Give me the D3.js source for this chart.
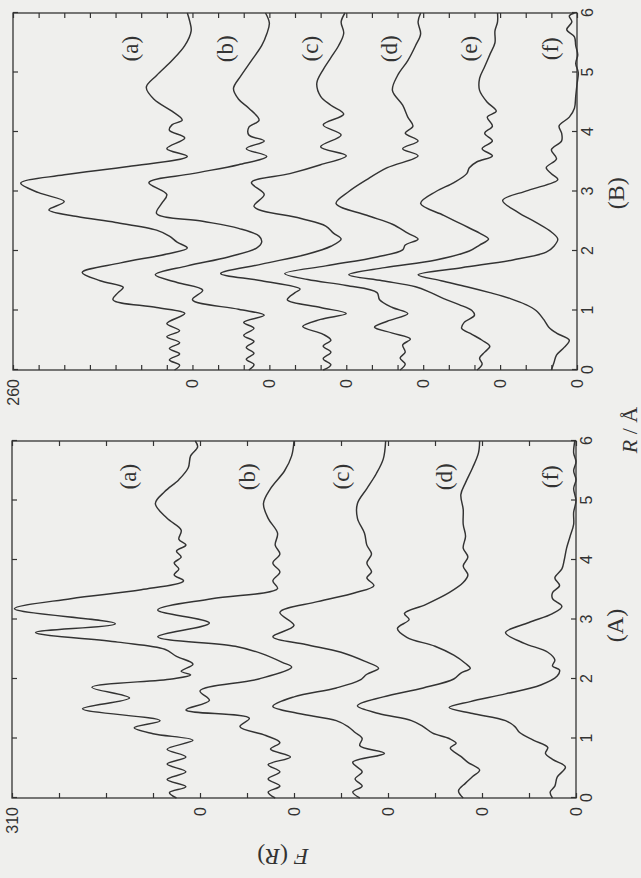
<!DOCTYPE html>
<html>
<head>
<meta charset="utf-8">
<script src="https://cdn.jsdelivr.net/npm/d3@7"></script>
<style>
  html, body { margin: 0; padding: 0; background: #efefed; }
  svg { display: block; }
</style>
</head>
<body>
<svg id="fig" width="641" height="878"></svg>
<script>
// ---------- data ----------
// Distance axis (Å), shared by both panels
const rTicks = [0, 1, 2, 3, 4, 5, 6];

// Panel (B): six transforms stacked on their own zero lines
const panelB_top = 260;
const panelB_bottom = 40;
const panelB_step = 10;
const panelB_zeros = [190, 160, 130, 100, 70, 40];
const panelB_names = ["(a)", "(b)", "(c)", "(d)", "(e)", "(f)"];

// [R, F(R) above the curve's own zero]
const curveB_a = [[0,7],[0.08,5],[0.17,9],[0.27,5],[0.36,9],[0.46,5],[0.56,10],[0.66,5],[0.78,10],[0.95,3],
  [1.05,14],[1.18,31],[1.3,29],[1.39,27],[1.5,36],[1.64,43],[1.8,28],[1.95,10],[2.05,2],[2.15,6],[2.25,9],
  [2.35,14],[2.48,30],[2.58,45],[2.69,56],[2.83,50],[2.98,60],[3.14,67],[3.28,50],[3.42,25],[3.59,2],
  [3.72,10],[3.9,3],[4.03,9],[4.12,8],[4.2,4],[4.35,8],[4.55,15],[4.75,18],[4.95,14],[5.2,8],[5.45,3],
  [5.7,0.5],[5.85,1],[6,2]];
const curveB_b = [[0,8],[0.09,6],[0.18,9],[0.28,6],[0.38,9],[0.48,6],[0.58,10],[0.7,6],[0.8,10],[0.92,2],
  [1.02,12],[1.18,30],[1.34,26],[1.47,36],[1.6,44.5],[1.75,32],[1.9,16],[2.05,5],[2.15,3],[2.25,4],[2.38,12],
  [2.5,26],[2.63,44],[2.8,42],[2.95,40],[3.15,47],[3.3,30],[3.45,12],[3.59,1],[3.72,9],[3.85,2],[3.95,8],
  [4.08,8],[4.2,4],[4.4,8],[4.55,12],[4.73,14],[4.95,11],[5.2,7],[5.45,3],[5.65,1],[5.83,0],[6,1.5]];
const curveB_c = [[0,9],[0.09,6],[0.19,9],[0.3,6],[0.4,9],[0.5,6],[0.6,9],[0.73,17],[0.85,10],[0.95,0],
  [1.05,10],[1.18,23],[1.3,20],[1.36,18],[1.5,33],[1.62,49],[1.78,33],[1.95,15],[2.08,6],[2.2,2],[2.3,5],
  [2.42,8],[2.55,18],[2.75,36],[2.95,32],[3.15,37],[3.3,22],[3.45,10],[3.6,0],[3.75,10],[3.95,2],[4.12,9],
  [4.3,1],[4.45,6],[4.6,10],[4.82,11.5],[5.05,9],[5.25,6],[5.45,3],[5.66,1],[5.85,2],[6,0.5]];
const curveB_d = [[0,9],[0.1,7],[0.2,9],[0.3,7],[0.42,8],[0.52,5],[0.62,12],[0.72,19],[0.82,14],[0.95,6],
  [1.05,12],[1.18,17],[1.3,18],[1.42,30],[1.52,45],[1.62,54],[1.75,38],[1.9,18],[2.02,8],[2.1,7],[2.2,2],
  [2.3,6],[2.45,12],[2.6,22],[2.8,34],[3,29],[3.2,22],[3.4,14],[3.6,2],[3.72,8],[3.85,2],[3.98,7],[4.1,4],
  [4.25,6],[4.45,8],[4.7,12],[4.95,10],[5.2,6],[5.45,3],[5.65,1],[5.85,2],[6,1]];
const curveB_e = [[0,9],[0.1,7],[0.2,8],[0.3,6],[0.4,4],[0.5,7],[0.6,11],[0.7,15],[0.8,14],[0.92,10],
  [1,11],[1.1,16],[1.2,22],[1.3,27],[1.4,33],[1.5,46],[1.6,59],[1.72,45],[1.85,25],[2,12],[2.1,8],[2.2,4.5],
  [2.3,8],[2.45,15],[2.6,22],[2.8,31],[3,25],[3.15,18],[3.3,13],[3.4,12],[3.5,9],[3.6,3],[3.72,7],[3.85,3],
  [3.98,6],[4.1,3],[4.25,5],[4.35,1.5],[4.5,5],[4.7,8],[4.9,8],[5.1,6],[5.3,4],[5.5,2],[5.7,2],[5.85,1],[6,1]];
const curveB_f = [[0,10],[0.12,9],[0.25,8],[0.38,5],[0.5,3],[0.62,8],[0.72,11],[0.85,13],[1,16],[1.1,20],
  [1.2,26],[1.3,34],[1.4,43],[1.5,53],[1.6,62],[1.72,45],[1.85,25],[1.98,12],[2.08,9],[2.2,7.5],[2.32,10],
  [2.48,16],[2.65,23],[2.85,29],[3.02,19],[3.2,7.5],[3.3,10],[3.4,12],[3.55,8],[3.7,10],[3.85,6],[3.98,6],
  [4.1,7],[4.25,3],[4.4,1],[4.6,0.5],[4.8,0],[5,-0.5],[5.15,0.5],[5.3,-0.3],[5.45,0.5],[5.6,1],[5.72,4],
  [5.85,2],[5.95,3],[6,1]];

// Panel (A): five transforms
const panelA_top = 310;
const panelA_bottom = 70;
const panelA_step = 20;
const panelA_zeros = [230, 190, 150, 110, 70];
const panelA_names = ["(a)", "(b)", "(c)", "(d)", "(f)"];

const curveA_a = [[0,10],[0.09,13],[0.19,6],[0.31,14],[0.44,6],[0.57,14],[0.69,6],[0.82,14],[0.97,3],
  [1.08,20],[1.18,28],[1.3,17],[1.5,50],[1.68,30],[1.86,46],[2,12],[2.07,4],[2.13,8],[2.25,3],[2.38,10],
  [2.5,15],[2.62,35],[2.78,70],[2.93,36],[3.18,79],[3.35,55],[3.5,25],[3.65,7],[3.75,11],[3.85,9],[3.95,11],
  [4.05,8],[4.15,10],[4.25,6],[4.35,9],[4.5,8],[4.7,14],[4.95,19],[5.15,15],[5.35,9],[5.55,5],[5.75,4],
  [5.9,1],[6,2]];
const curveA_b = [[0,8],[0.1,11],[0.2,6],[0.32,11],[0.44,6],[0.56,11],[0.69,1.5],[0.82,10],[0.93,6],
  [1.05,12],[1.2,23],[1.34,19],[1.48,46],[1.64,36],[1.8,40],[2,15],[2.2,1],[2.28,5],[2.43,14],[2.55,25],
  [2.71,58],[2.94,36],[3.16,58],[3.35,35],[3.52,7],[3.65,9],[3.8,6],[3.95,9],[4.1,6],[4.25,8],[4.45,7],
  [4.7,11],[4.95,13],[5.2,10],[5.5,4],[5.75,1],[6,0]];
const curveA_c = [[0,12],[0.1,15],[0.2,11],[0.32,14],[0.44,11],[0.6,15],[0.75,1.5],[0.88,12],[1,11],
  [1.1,14],[1.2,17],[1.3,22],[1.42,38],[1.54,49],[1.7,40],[1.85,22],[1.98,12],[2.08,9],[2.18,4],[2.3,10],
  [2.45,20],[2.58,35],[2.71,49],[2.9,40],[3.12,46],[3.3,30],[3.45,14],[3.57,6],[3.7,9],[3.8,7],[3.95,9],
  [4.1,7],[4.25,9],[4.45,10],[4.7,13],[4.95,13],[5.2,9],[5.45,5],[5.7,2],[6,1]];
const curveA_d = [[0,8],[0.12,10],[0.25,7],[0.36,4],[0.47,1],[0.6,6],[0.7,9],[0.84,13.5],[0.92,11],
  [1,14],[1.09,21],[1.2,25],[1.3,30],[1.42,44],[1.55,53],[1.7,42],[1.85,25],[2,12],[2.1,9],[2.18,5],
  [2.26,7],[2.4,12],[2.55,20],[2.7,32],[2.85,36],[3,31],[3.1,33],[3.25,24],[3.45,14],[3.62,8],[3.75,6],
  [3.9,8],[4.05,6],[4.2,8],[4.4,7],[4.6,8],[4.85,8],[5.1,9],[5.3,7],[5.55,4],[5.8,1.5],[6,1]];
const curveA_f = [[0,10],[0.1,11],[0.2,9],[0.35,8],[0.52,4.5],[0.65,10],[0.75,13],[0.85,12],[0.97,18],
  [1.1,24],[1.2,26],[1.3,30],[1.42,44],[1.52,54],[1.62,45],[1.75,30],[1.9,15],[2.05,8],[2.15,7],[2.22,10],
  [2.32,9],[2.45,12],[2.6,22],[2.78,30],[2.95,20],[3.1,10],[3.22,6],[3.35,10],[3.45,10],[3.57,7],[3.7,9],
  [3.85,6],[4,5],[4.2,4],[4.4,2.5],[4.6,1],[4.8,1],[5,0],[5.2,1],[5.35,0],[5.5,1],[5.65,0],[5.8,1],[6,0.5]];

// ---------- layout ----------
const ink = "#333333";
const W = 357;   // length of the R axis
const H = 564;   // length of the F(R) axis
const labelLiftB = [24, 17, 14, 13, 12, 10.5];
const labelLiftA = [30.6, 19.6, 20, 16, 11];
const serif = "'Liberation Serif', 'DejaVu Serif', serif";

const svg = d3.select("#fig");

function drawPanel(cfg) {
  // Each panel is laid out upright, then turned a quarter turn counter-clockwise
  const g = svg.append("g")
    .attr("transform", `translate(${cfg.x0},${cfg.y0}) rotate(-90)`)
    .style("color", ink);

  const r = d3.scaleLinear().domain([0, 6]).range([0, W]);
  const f = d3.scaleLinear().domain([cfg.bottom, cfg.top]).range([H, 0]);
  const fTicks = d3.range(cfg.top, cfg.bottom - 0.001, -cfg.step);

  const styleAxis = sel => {
    sel.select(".domain").remove();
    sel.selectAll("line").attr("stroke-width", 1.2);
    sel.selectAll("text")
      .attr("fill", ink)
      .style("font-family", "'Liberation Sans', Arial, sans-serif")
      .style("font-size", "16px");
  };

  // R axis with labels, and mirrored ticks on the opposite edge
  g.append("g").attr("transform", `translate(0,${H})`)
    .call(d3.axisBottom(r).tickValues(rTicks).tickSizeInner(-5).tickSizeOuter(0)
      .tickPadding(5).tickFormat(d3.format("d")))
    .call(styleAxis);
  g.append("g")
    .call(d3.axisTop(r).tickValues(rTicks).tickSizeInner(-5).tickSizeOuter(0).tickFormat(""))
    .call(styleAxis);

  // F(R) axis: the top value and each curve's zero are labelled
  g.append("g")
    .call(d3.axisLeft(f).tickValues(fTicks).tickSizeInner(-5).tickSizeOuter(0).tickPadding(9)
      .tickFormat(v => v === cfg.top ? String(cfg.top) : (cfg.zeros.includes(v) ? "0" : "")))
    .call(styleAxis);
  g.append("g").attr("transform", `translate(${W},0)`)
    .call(d3.axisRight(f).tickValues(fTicks).tickSizeInner(-5).tickSizeOuter(0).tickFormat(""))
    .call(styleAxis);

  g.append("rect").attr("x", 0).attr("y", 0).attr("width", W).attr("height", H)
    .attr("fill", "none").attr("stroke", ink).attr("stroke-width", 1.3);

  // the stacked curves
  cfg.curves.forEach((pts, i) => {
    const zero = cfg.zeros[i];
    const line = d3.line()
      .x(d => r(d[0]))
      .y(d => f(zero + d[1]))
      .curve(d3.curveCatmullRom.alpha(0.5));
    g.append("path").datum(pts).attr("d", line)
      .attr("fill", "none").attr("stroke", ink).attr("stroke-width", 1.45)
      .attr("stroke-linejoin", "round");
    g.append("text")
      .attr("x", r(5.4)).attr("y", f(zero + cfg.lift[i]))
      .attr("text-anchor", "middle").attr("dominant-baseline", "central")
      .attr("fill", ink)
      .style("font-family", serif)
      .style("font-size", "23px")
      .text(cfg.names[i]);
  });

  // panel letter under the R axis
  g.append("text")
    .attr("x", r(cfg.letterR)).attr("y", H + 39)
    .attr("text-anchor", "middle").attr("dominant-baseline", "central")
    .attr("fill", ink)
    .style("font-family", serif)
    .style("font-size", "24px")
    .text(cfg.letter);

  return { g, r, f };
}

drawPanel({
  x0: 13, y0: 370, top: panelB_top, bottom: panelB_bottom, step: panelB_step,
  zeros: panelB_zeros, names: panelB_names, lift: labelLiftB,
  curves: [curveB_a, curveB_b, curveB_c, curveB_d, curveB_e, curveB_f],
  letter: "(B)", letterR: 2.97
});

const A = drawPanel({
  x0: 12, y0: 798, top: panelA_top, bottom: panelA_bottom, step: panelA_step,
  zeros: panelA_zeros, names: panelA_names, lift: labelLiftA,
  curves: [curveA_a, curveA_b, curveA_c, curveA_d, curveA_f],
  letter: "(A)", letterR: 2.9
});

// axis titles
const rTitle = A.g.append("text")
  .attr("x", A.r(6) + 11).attr("y", H + 53)
  .attr("text-anchor", "middle").attr("dominant-baseline", "central")
  .attr("fill", ink).style("font-family", serif).style("font-size", "22px");
rTitle.append("tspan").style("font-style", "italic").text("R");
rTitle.append("tspan").text(" / Å");

const fTitle = A.g.append("text")
  .attr("transform", `translate(-59,271) rotate(-90)`)
  .attr("text-anchor", "middle").attr("dominant-baseline", "central")
  .attr("fill", ink).style("font-family", serif).style("font-size", "24px");
fTitle.append("tspan").style("font-style", "italic").text("F");
fTitle.append("tspan").text(" (");
fTitle.append("tspan").style("font-style", "italic").text("R");
fTitle.append("tspan").text(")");
</script>
</body>
</html>
